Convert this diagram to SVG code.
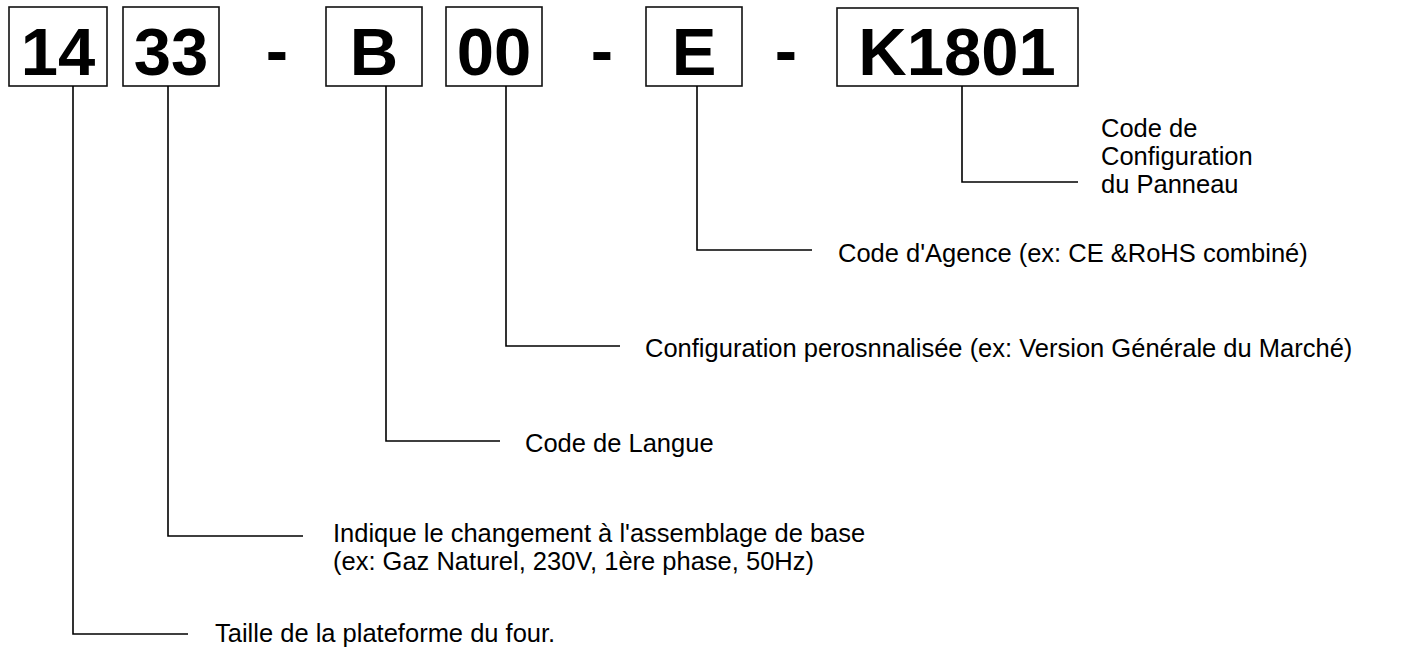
<svg xmlns="http://www.w3.org/2000/svg" width="1403" height="650" viewBox="0 0 1403 650">
<style>
.box{fill:#fff;stroke:#111;stroke-width:1.6}
.code{font-family:"Liberation Sans",Arial,sans-serif;font-weight:bold;font-size:67px;fill:#000;text-anchor:middle}
.lbl{font-family:"Liberation Sans",Arial,sans-serif;font-size:25.5px;fill:#000}
.con{fill:none;stroke:#000;stroke-width:1.6}
</style>
<rect width="1403" height="650" fill="#fff"/>
<g id="n14"><rect class="box" x="9" y="7" width="98" height="79"/><text class="code" x="58" y="75">14</text></g>
<g id="n33"><rect class="box" x="123" y="7" width="96" height="79"/><text class="code" x="171" y="75">33</text></g>
<g id="dash1"><text class="code" x="277" y="73">-</text></g>
<g id="nB"><rect class="box" x="326" y="7" width="96" height="79"/><text class="code" x="374" y="75">B</text></g>
<g id="n00"><rect class="box" x="446" y="7" width="96" height="79"/><text class="code" x="494" y="75">00</text></g>
<g id="dash2"><text class="code" x="602" y="73">-</text></g>
<g id="nE"><rect class="box" x="646" y="7" width="96" height="79"/><text class="code" x="694" y="75">E</text></g>
<g id="dash3"><text class="code" x="786" y="73">-</text></g>
<g id="nK"><rect class="box" x="837" y="8" width="241" height="78"/><text class="code" x="957" y="75">K1801</text></g>
<g id="connectors">
<polyline class="con" points="962,86 962,182 1078,182"/>
<polyline class="con" points="697,86 697,250 812,250"/>
<polyline class="con" points="506,86 506,346 620,346"/>
<polyline class="con" points="386,86 386,441 500,441"/>
<polyline class="con" points="168,86 168,536 303,536"/>
<polyline class="con" points="73,86 73,634 188,634"/>
</g>
<g id="lblK"><text class="lbl"><tspan x="1101" y="137">Code de</tspan><tspan x="1101" y="165">Configuration</tspan><tspan x="1101" y="193">du Panneau</tspan></text></g>
<g id="lblE"><text class="lbl" x="838" y="262">Code d'Agence (ex: CE &amp;RoHS combiné)</text></g>
<g id="lbl00"><text class="lbl" x="645" y="357">Configuration perosnnalisée (ex: Version Générale du Marché)</text></g>
<g id="lblB"><text class="lbl" x="525" y="452">Code de Langue</text></g>
<g id="lbl33"><text class="lbl"><tspan x="333" y="542">Indique le changement à l'assemblage de base</tspan><tspan x="333" y="570">(ex: Gaz Naturel, 230V, 1ère phase, 50Hz)</tspan></text></g>
<g id="lbl14"><text class="lbl" x="215" y="642">Taille de la plateforme du four.</text></g>
</svg>
